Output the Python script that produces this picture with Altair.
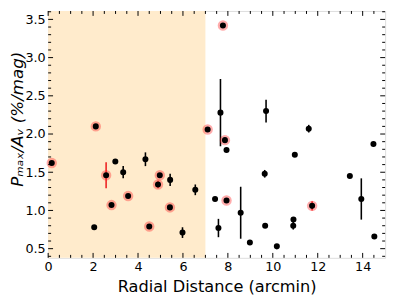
import altair as alt
import pandas as pd

# Highlighted (red-ringed) sources
sel_x = [0.16, 2.12, 2.58, 2.82, 3.56, 4.50, 4.89, 4.97, 5.42, 7.10, 7.78, 7.87, 7.94, 11.75]
sel_y = [1.62, 2.10, 1.46, 1.07, 1.19, 0.79, 1.34, 1.46, 1.04, 2.06, 3.42, 1.92, 1.13, 1.06]
sel_err = [0, 0, 0.17, 0, 0, 0, 0.05, 0, 0, 0, 0, 0, 0, 0.06]

# Other sources
oth_x = [2.05, 2.99, 3.34, 4.33, 5.43, 5.98, 6.55, 7.43, 7.58, 7.67, 7.94, 8.57, 8.98,
         10.18, 9.70, 9.64, 9.66, 10.92, 10.91, 10.98, 11.60, 14.48, 13.43, 13.94, 14.52]
oth_y = [0.78, 1.64, 1.50, 1.67, 1.40, 0.71, 1.27, 1.15, 0.77, 2.28, 1.79, 0.97, 0.58,
         0.53, 2.30, 1.48, 0.80, 0.88, 0.80, 1.73, 2.07, 1.87, 1.45, 1.15, 0.66]
oth_err = [0, 0, 0.08, 0.09, 0.08, 0.07, 0.07, 0, 0.12, 0.44, 0, 0.34, 0,
           0, 0.15, 0.05, 0, 0, 0.05, 0, 0.05, 0, 0, 0.27, 0]

shade_x = [0.0]
shade_x2 = [7.0]

x_major = [0, 2, 4, 6, 8, 10, 12, 14]
x_minor = [v / 2 for v in range(1, 30) if v % 4 != 0]
y_major = [0.5, 1.0, 1.5, 2.0, 2.5, 3.0, 3.5]
y_minor = [v / 10 for v in range(4, 37) if v % 5 != 0]

W, H = 344, 252
FONT = "DejaVu Sans"

xs = alt.Scale(domain=[0, 15], nice=False, zero=False)
ys = alt.Scale(domain=[0.38, 3.61], nice=False, zero=False)

sel = pd.DataFrame({"x": sel_x, "y": sel_y, "e": sel_err})
sel["lo"] = sel["y"] - sel["e"]
sel["hi"] = sel["y"] + sel["e"]
oth = pd.DataFrame({"x": oth_x, "y": oth_y, "e": oth_err})
oth["lo"] = oth["y"] - oth["e"]
oth["hi"] = oth["y"] + oth["e"]
allpts = pd.concat([sel, oth], ignore_index=True)

X = alt.X("x:Q", scale=xs, title="Radial Distance (arcmin)",
          axis=alt.Axis(values=x_major, format="d", ticks=False, domain=False, grid=False,
                        labelPadding=3, labelFontSize=13, labelFont=FONT, labelColor="black",
                        titleFontSize=16.5, titleFont=FONT, titleFontWeight="normal",
                        titleColor="black", titleX=W / 2, titleY=34, titleBaseline="alphabetic",
                        titleAnchor="middle", labelFlush=False))
Y = alt.Y("y:Q", scale=ys, title="Pₘₐₓ/Aᵥ (%/mag)",
          axis=alt.Axis(values=y_major, format=".1f", ticks=False, domain=False, grid=False,
                        labelPadding=3, labelFontSize=13, labelFont=FONT, labelColor="black",
                        titleFontSize=17, titleFont=FONT, titleFontWeight="normal",
                        titleFontStyle="italic", titleColor="black", titleX=-31, titleY=110,
                        titleAngle=270, titleBaseline="middle", titleAlign="center",
                        labelFlush=False))

shade = alt.Chart(pd.DataFrame({"x": shade_x, "x2": shade_x2})).mark_rect(
    color="#ffebcc").encode(
    x=alt.X("x:Q", scale=xs), x2="x2:Q", y=alt.value(0), y2=alt.value(H))

eb_blk = alt.Chart(oth[oth["e"] > 0]).mark_rule(color="black", strokeWidth=1.6).encode(
    x=alt.X("x:Q", scale=xs), y=alt.Y("lo:Q", scale=ys), y2="hi:Q")
eb_red = alt.Chart(sel[sel["e"] > 0]).mark_rule(color="#ee2222", strokeWidth=1.6).encode(
    x=alt.X("x:Q", scale=xs), y=alt.Y("lo:Q", scale=ys), y2="hi:Q")

rings = alt.Chart(sel).mark_point(shape="circle", filled=True, size=90, color="#ff3333",
                                  opacity=0.4, stroke="#ff2222", strokeWidth=1.2,
                                  strokeOpacity=0.85).encode(
    x=alt.X("x:Q", scale=xs), y=alt.Y("y:Q", scale=ys))

dots = alt.Chart(allpts).mark_point(shape="circle", filled=True, size=38, color="black",
                                    opacity=1).encode(x=X, y=Y)


def xticks(vals, length, top):
    c = alt.Chart(pd.DataFrame({"x": vals})).mark_rule(color="black", strokeWidth=1)
    if top:
        return c.encode(x=alt.X("x:Q", scale=xs), y=alt.value(0), y2=alt.value(length))
    return c.encode(x=alt.X("x:Q", scale=xs), y=alt.value(H), y2=alt.value(H - length))


def yticks(vals, length, right):
    c = alt.Chart(pd.DataFrame({"y": vals})).mark_rule(color="black", strokeWidth=1)
    if right:
        return c.encode(y=alt.Y("y:Q", scale=ys), x=alt.value(W), x2=alt.value(W - length))
    return c.encode(y=alt.Y("y:Q", scale=ys), x=alt.value(0), x2=alt.value(length))


ticks = [xticks(x_major, 5, False), xticks(x_minor, 3, False),
         xticks(x_major, 5, True), xticks(x_minor, 3, True),
         yticks(y_major, 5, False), yticks(y_minor, 3, False),
         yticks(y_major, 5, True), yticks(y_minor, 3, True)]

chart = alt.layer(shade, eb_blk, eb_red, rings, dots, *ticks).properties(
    width=W, height=H,
    autosize=alt.AutoSizeParams(type="none"),
    padding={"left": 41, "top": 0, "right": 6, "bottom": 40},
).configure_view(stroke="#111111", strokeWidth=1.2).configure(background="white")

chart.save("out.html", embed_options={"renderer": "svg", "actions": False})
